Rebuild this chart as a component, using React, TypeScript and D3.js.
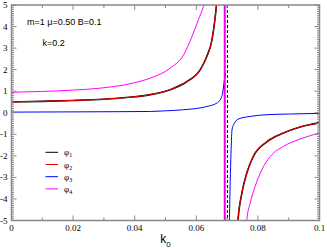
import React from "react";
import * as d3 from "d3";

// branches: [k0, phi]
const phi2Left = [
  [0, 0.5], [0.01, 0.53], [0.02, 0.57], [0.03, 0.63], [0.04, 0.74], [0.0451, 0.84],
  [0.0515, 1.07], [0.057, 1.45], [0.0613, 2.0], [0.0634, 2.61], [0.0651, 3.39],
  [0.0659, 4.16], [0.0665, 4.93], [0.0669, 5.6],
];
const phi2Right = [
  [0.0733, -5.5], [0.0735, -5.07], [0.0748, -3.73], [0.0764, -2.8], [0.0785, -2.03],
  [0.0829, -1.35], [0.0883, -0.94], [0.0937, -0.66], [0.1, -0.47],
];
const phi1Left = phi2Left;
const phi1Right = phi2Right;
const phi3Left = [
  [0, 0.03], [0.02, 0.04], [0.035, 0.05], [0.0451, 0.06], [0.05, 0.09], [0.0559, 0.14],
  [0.0634, 0.29], [0.0667, 0.45], [0.0683, 0.76], [0.069, 1.38], [0.0694, 1.84],
];
const phi3Right = [
  [0.0707, -5.3], [0.0712, -2.18], [0.0716, -0.79], [0.0721, -0.56], [0.0737, -0.29],
  [0.0775, -0.17], [0.083, -0.09], [0.09, -0.06], [0.1, -0.03],
];
const phi4Left = [
  [0, 0.95], [0.01, 0.99], [0.02, 1.05], [0.0288, 1.14], [0.0396, 1.38], [0.0451, 1.61],
  [0.0515, 2.07], [0.0559, 2.69], [0.0586, 3.54], [0.0607, 4.32], [0.0623, 4.93], [0.0634, 5.5],
];
const phi4Right = [
  [0.0762, -5.5], [0.0764, -4.97], [0.0775, -4.19], [0.0791, -3.42], [0.0813, -2.64],
  [0.084, -2.03], [0.0883, -1.56], [0.0937, -1.22], [0.1, -0.94],
];
const poleK = 0.0692;
const dashK = 0.0701;

const xTicks = [0, 0.02, 0.04, 0.06, 0.08, 0.1];
const xTickLabels = ["0", "0.02", "0.04", "0.06", "0.08", "0.1"];
const yTicks = [-5, -4, -3, -2, -1, 0, 1, 2, 3, 4, 5];

const series = [
  { name: "1", color: "#000000", width: 1.6, branches: [phi1Left, phi1Right] },
  { name: "2", color: "#ff0000", width: 1, branches: [phi2Left, phi2Right] },
  { name: "3", color: "#0000ff", width: 1, branches: [phi3Left, phi3Right] },
  { name: "4", color: "#ff00ff", width: 1, branches: [phi4Left, phi4Right] },
];

const W = 327;
const H = 248;
const left = 11.5, right = 319.5, top = 5, bottom = 220.5;
const axisColor = "#888";

export default function App() {
  const x = d3.scaleLinear().domain([0, 0.1]).range([left, right]);
  const y = d3.scaleLinear().domain([-5, 5]).range([bottom, top]);
  const line = d3.line<number[]>()
    .x(d => x(d[0]))
    .y(d => y(d[1]))
    .curve(d3.curveMonotoneX);

  const xMinor = d3.range(0, 0.1001, 0.01);
  const yMinor = d3.range(-5, 5.001, 0.1);
  const serif = "'Liberation Serif', 'DejaVu Serif', serif";
  const sans = "'Liberation Sans', Arial, sans-serif";

  return (
    <svg width={W} height={H} style={{ position: "absolute", left: 0, top: 0, background: "#fff" }}>
      <defs>
        <clipPath id="plot">
          <rect x={left} y={top} width={right - left} height={bottom - top} />
        </clipPath>
      </defs>
      <g clipPath="url(#plot)" fill="none">
        {series.map(s =>
          s.branches.map((b, i) => (
            <path key={s.name + i} d={line(b) || ""} stroke={s.color} strokeWidth={s.width} />
          ))
        )}
        <line x1={x(poleK)} x2={x(poleK)} y1={top} y2={bottom} stroke="#000" strokeWidth={1.6} />
        <line x1={x(poleK)} x2={x(poleK)} y1={top} y2={bottom} stroke="#ff00ff" strokeWidth={1.1} />
        <line x1={x(dashK)} x2={x(dashK)} y1={top} y2={bottom} stroke="#000" strokeWidth={1} strokeDasharray="3,2" />
      </g>

      {/* frame and ticks */}
      <g stroke={axisColor} strokeWidth={1}>
        {xMinor.map((t, i) => {
          const major = i % 2 === 0;
          const len = major ? 5 : 3;
          return (
            <g key={"xt" + i}>
              <line x1={x(t)} x2={x(t)} y1={bottom} y2={bottom - len} />
              <line x1={x(t)} x2={x(t)} y1={top} y2={top + len} />
            </g>
          );
        })}
        {yMinor.map((t, i) => {
          const major = i % 10 === 0;
          const len = major ? 5 : 2.5;
          return (
            <g key={"yt" + i}>
              <line x1={left} x2={left + len} y1={y(t)} y2={y(t)} />
              <line x1={right} x2={right - len} y1={y(t)} y2={y(t)} />
            </g>
          );
        })}
        <rect x={left} y={top} width={right - left} height={bottom - top} fill="none" strokeWidth={1.5} />
      </g>

      <g fontFamily={serif} fontSize={9} fill="#000">
        {xTicks.map((t, i) => (
          <text key={"xl" + i} x={x(t)} y={bottom + 10} textAnchor="middle">{xTickLabels[i]}</text>
        ))}
        {yTicks.map(t => (
          <text key={"yl" + t} x={7.5} y={y(t) + 3} textAnchor="end">{t}</text>
        ))}
      </g>

      <text x={x(0.05)} y={243} textAnchor="middle" fontFamily={sans} fontSize={12}>
        k<tspan fontSize={8} dy={4}>0</tspan>
      </text>

      <g fontFamily={sans} fontSize={9}>
        <text x={27} y={24.5}>m=1 μ=0.50 B=0.1</text>
        <text x={42.5} y={45.5}>k=0.2</text>
      </g>

      <g>
        {series.map((s, i) => {
          const ly = 152.3 + i * 12.2;
          return (
            <g key={"lg" + s.name}>
              <line x1={45.5} x2={58} y1={ly} y2={ly} stroke={s.color} strokeWidth={1} />
              <text x={64} y={ly + 3} fontFamily={serif} fontSize={9}>
                φ<tspan fontSize={6} dy={2}>{s.name}</tspan>
              </text>
            </g>
          );
        })}
      </g>
    </svg>
  );
}
